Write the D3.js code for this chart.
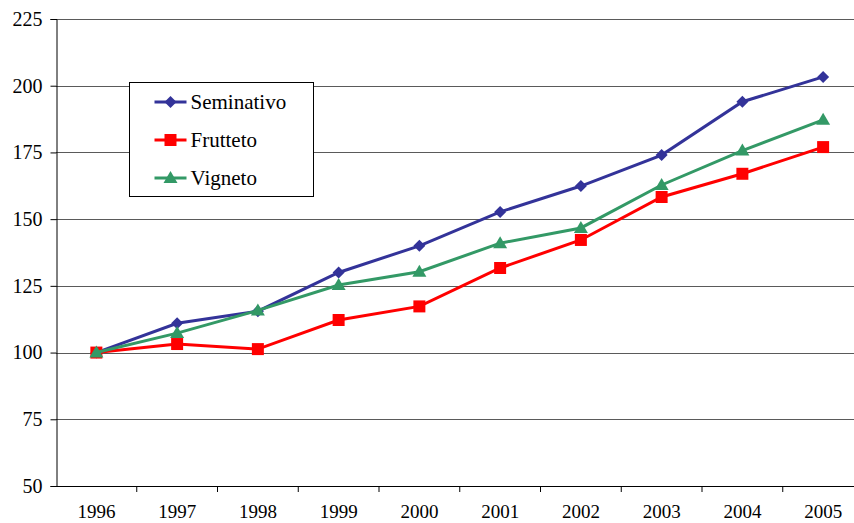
<!DOCTYPE html>
<html>
<head>
<meta charset="utf-8">
<script src="https://cdn.jsdelivr.net/npm/d3@7"></script>
</head>
<body style="margin:0">
<svg id="chart" width="854" height="523"></svg>
<script>
// data
var years = ["1996","1997","1998","1999","2000","2001","2002","2003","2004","2005"];
var seminativo = [100, 111, 115.5, 130, 140, 152.7, 162.4, 174, 194, 203.3];
var frutteto   = [100, 103.2, 101.3, 112.2, 117.3, 131.7, 142.2, 158.3, 167, 177];
var vigneto    = [100, 107.3, 115.8, 125.3, 130.3, 141, 146.7, 162.8, 175.7, 187.2];
var yTicks = [50, 75, 100, 125, 150, 175, 200, 225];

var series = [
  {name: "Seminativo", values: seminativo, color: "#333399", marker: "diamond"},
  {name: "Frutteto",   values: frutteto,   color: "#ff0000", marker: "square"},
  {name: "Vigneto",    values: vigneto,    color: "#339966", marker: "triangle"}
];

var svg = d3.select("#chart");
// plot area edges (window.top is reserved, so own names)
var plotLeft = 56, plotRight = 863.5, plotTop = 19, plotBottom = 486;

var x = d3.scaleBand().domain(years).range([plotLeft, plotRight]);
var y = d3.scaleLinear().domain([50, 225]).range([plotBottom, plotTop]);

// gridlines
svg.append("g")
  .selectAll("line")
  .data(yTicks.slice(1))
  .enter().append("line")
    .attr("x1", plotLeft).attr("x2", plotRight)
    .attr("y1", function(d) { return Math.round(y(d)) + 0.5; })
    .attr("y2", function(d) { return Math.round(y(d)) + 0.5; })
    .attr("stroke", "#5a5a5a")
    .attr("stroke-width", 1);

// y axis
var yAxis = svg.append("g")
  .attr("transform", "translate(" + (plotLeft + 0.5) + ",0)")
  .call(d3.axisLeft(y).tickValues(yTicks).tickSize(6).tickPadding(8).tickFormat(d3.format("d")));
yAxis.selectAll("text")
  .style("font-family", "Liberation Serif")
  .style("font-size", "20px")
  .attr("fill", "#000");
yAxis.selectAll("line, path").attr("stroke", "#000");

// x axis, ticks on category boundaries
var xAxis = svg.append("g")
  .attr("transform", "translate(0," + plotBottom + ")")
  .call(d3.axisBottom(x).tickSize(0).tickPadding(19));
xAxis.select("path").remove();
xAxis.selectAll("text")
  .style("font-family", "Liberation Serif")
  .style("font-size", "19px")
  .attr("fill", "#000");

svg.append("line")
  .attr("x1", plotLeft).attr("x2", plotRight)
  .attr("y1", plotBottom + 0.5).attr("y2", plotBottom + 0.5)
  .attr("stroke", "#000");

svg.append("g")
  .selectAll("line")
  .data(years.slice(1))
  .enter().append("line")
    .attr("x1", function(d) { return x(d); })
    .attr("x2", function(d) { return x(d); })
    .attr("y1", plotBottom).attr("y2", plotBottom + 6)
    .attr("stroke", "#000");

function markerPath(type) {
  if (type == "diamond") return "M0,-6L6,0L0,6L-6,0Z";
  if (type == "square") return "M-6,-6H6V6H-6Z";
  return "M0,-7L7,5H-7Z";
}

var line = d3.line()
  .x(function(d, i) { return x(years[i]) + x.bandwidth() / 2; })
  .y(function(d) { return y(d); });

series.forEach(function(s) {
  var g = svg.append("g");
  g.append("path")
    .attr("d", line(s.values))
    .attr("fill", "none")
    .attr("stroke", s.color)
    .attr("stroke-width", 3);
  g.selectAll("path.m")
    .data(s.values)
    .enter().append("path")
      .attr("class", "m")
      .attr("d", markerPath(s.marker))
      .attr("transform", function(d, i) {
        return "translate(" + (x(years[i]) + x.bandwidth() / 2) + "," + y(d) + ")";
      })
      .attr("fill", s.color);
});

// legend
var legend = svg.append("g").attr("transform", "translate(129.5,82.5)");
legend.append("rect")
  .attr("width", 184).attr("height", 114)
  .attr("fill", "#fff").attr("stroke", "#000");

series.forEach(function(s, i) {
  var row = legend.append("g").attr("transform", "translate(0," + (19.5 + i * 38) + ")");
  row.append("line")
    .attr("x1", 25).attr("x2", 57)
    .attr("stroke", s.color).attr("stroke-width", 3);
  row.append("path")
    .attr("d", markerPath(s.marker))
    .attr("transform", "translate(41,0)")
    .attr("fill", s.color);
  row.append("text")
    .attr("x", 61).attr("y", 7)
    .style("font-family", "Liberation Serif")
    .style("font-size", "21px")
    .text(s.name);
});
</script>
</body>
</html>
